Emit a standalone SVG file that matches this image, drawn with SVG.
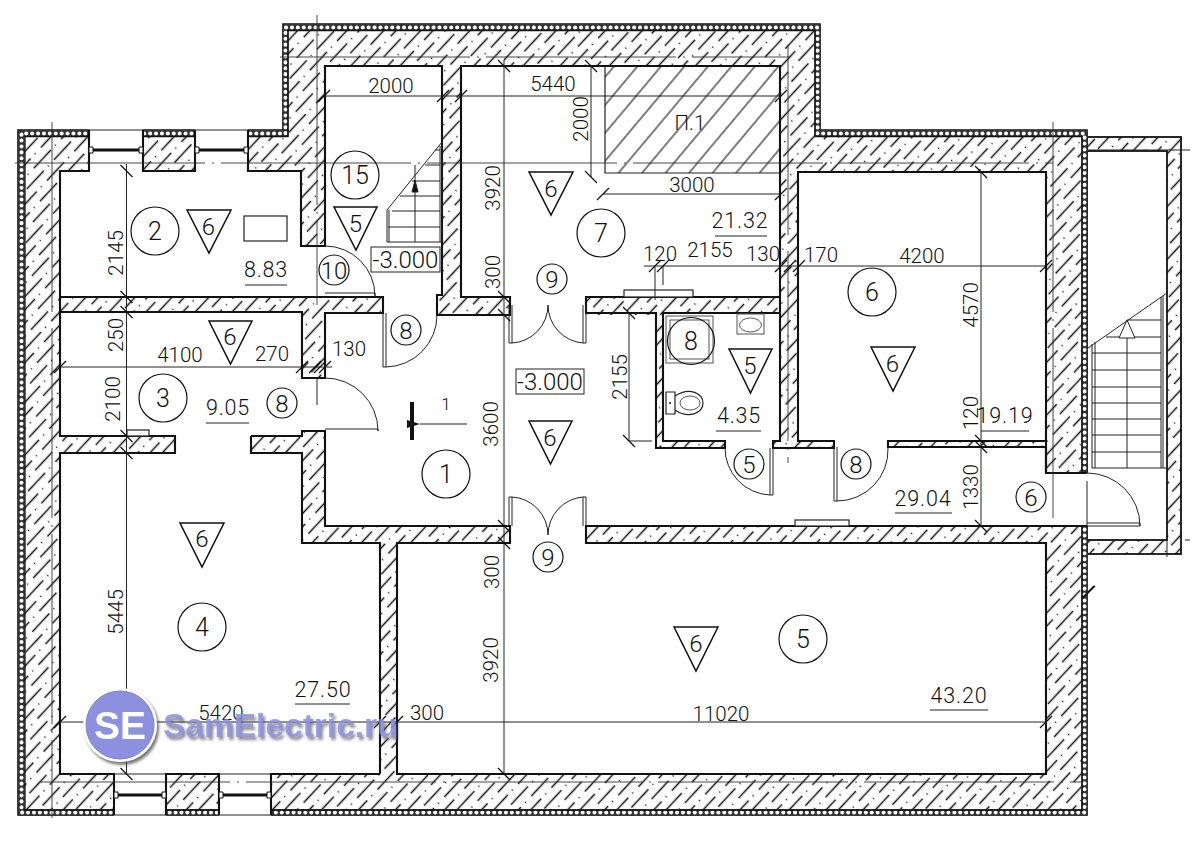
<svg xmlns="http://www.w3.org/2000/svg" width="1200" height="854" viewBox="0 0 1200 854">
<style>
text{font-family:"Roboto","Liberation Sans",Arial,sans-serif;font-weight:300;fill:#111}
.d{font-size:20.500px;text-anchor:middle}
.a{font-size:21.500px;text-anchor:middle;letter-spacing:.8px}
.c{font-size:25px;text-anchor:middle}
.s{font-size:24px;text-anchor:middle}
.t{font-size:24px;text-anchor:middle}
.e{font-size:24px;text-anchor:middle}
.wall{fill:none;stroke:#111;stroke-width:2.1;stroke-linejoin:miter}
.thin{fill:none;stroke:#222;stroke-width:1}
.dim{fill:none;stroke:#222;stroke-width:1;marker-start:url(#tick);marker-mid:url(#tick);marker-end:url(#tick)}
.axis{fill:none;stroke:#333;stroke-width:.9;stroke-dasharray:190 7 2 7}
.cir{fill:#fff;fill-opacity:0;stroke:#111;stroke-width:1.2}
.tri{fill:none;stroke:#111;stroke-width:1.5;stroke-linejoin:miter}
.fx{fill:none;stroke:#555;stroke-width:1}
.ul{stroke:#222;stroke-width:1.2}
.w{fill:#fff}
</style>
<defs>
<pattern id="hatch" width="40" height="18" patternUnits="userSpaceOnUse" patternTransform="rotate(-47)">
<path d="M0,4.5H25M31,4.5H32.2M20,13.5H40M0,13.5H5M11,13.5H12.2" stroke="#111" stroke-width="1.4" fill="none"/>
</pattern>
<pattern id="zone" width="30" height="18" patternUnits="userSpaceOnUse" patternTransform="rotate(-50)">
<path d="M0,9H30" stroke="#111" stroke-width="1.1"/>
</pattern>
<marker id="tick" markerUnits="userSpaceOnUse" markerWidth="20" markerHeight="20" refX="10" refY="10" orient="auto">
<path d="M4,16L16,4" stroke="#111" stroke-width="1.3"/>
</marker>
<marker id="head" markerUnits="userSpaceOnUse" markerWidth="14" markerHeight="10" refX="0" refY="5" orient="auto">
<path d="M0,5L13,1V9Z" fill="#111"/>
</marker>
<filter id="shadow" x="-10%" y="-20%" width="120%" height="150%">
<feDropShadow dx="2" dy="3" stdDeviation="1.6" flood-color="#555" flood-opacity=".8"/>
</filter>
</defs>
<rect width="1200" height="854" fill="#fff"/>

<g id="balcony">
<rect x="1087" y="137" width="94" height="417" fill="url(#hatch)" stroke="#111" stroke-width="1.8"/>
<rect x="1087" y="151" width="80" height="389" fill="#fff" stroke="#111" stroke-width="1.8"/>
</g>

<g id="walls">
<path id="mass" d="M18,130H283V24H820V130H1087V815H18Z" fill="#fff"/>
<path d="M18,130H283V24H820V130H1087V815H18Z" fill="url(#hatch)" stroke="#111" stroke-width="1.6"/>
<path d="M1084.500,474V133.500H817.500V27.500H285.500V133.500H21.500V812.500H1084.500V526" fill="none" stroke="#333" stroke-width="6.400"/>
<path d="M1084.500,474V133.500H817.500V27.500H285.500V133.500H21.500V812.500H1084.500V526" fill="none" stroke="#fff" stroke-width="4" stroke-linecap="round" stroke-dasharray="0.1 5.800"/>
<path d="M1082,473V136.500H815V30.500H288V136.500H25V810H1082V526" fill="none" stroke="#111" stroke-width="1.3"/>
</g>

<g id="interiors" class="w">
<rect x="60" y="171" width="241" height="126"/>
<rect x="301" y="246" width="24" height="51"/>
<rect x="325" y="66" width="117" height="231"/>
<rect x="383" y="295" width="54" height="20"/>
<rect x="60" y="312" width="242" height="124"/>
<rect x="300" y="378" width="27" height="53"/>
<rect x="175" y="434" width="76" height="21"/>
<path d="M60,453H302V543H380V774H60Z"/>
<path d="M325,313H383V315H656V448H725V441H773V448H834V441H888V447H1046V473H1089V526H325Z"/>
<rect x="663" y="313" width="117" height="128"/>
<rect x="461" y="66" width="319" height="231"/>
<rect x="510" y="295" width="76" height="22"/>
<rect x="798" y="172" width="248" height="269"/>
<rect x="834" y="439" width="54" height="10"/>
<rect x="397" y="543" width="649" height="231"/>
<rect x="510" y="524" width="76" height="21"/>
<rect x="89" y="128" width="54" height="43"/>
<rect x="195" y="128" width="53" height="43"/>
<rect x="114" y="774" width="52" height="43"/>
<rect x="219" y="774" width="52" height="43"/>
</g>

<g id="wall-lines">
<path class="wall" d="M89,130V171H60V436H175V453H60V774H114V815M143,130V171H195V130M248,130V171H301V246H325V66H442V295H437V315H510V297H461V66H780V297H586V313H656V448H725V441H663V313H780V441H773V448H834V441H798V172H1046V441H888V447H1046V473H1087M780,297V441M798,441V172M586,297V313M510,297V315M834,441V448M888,441V447"/>
<path class="wall" d="M60,297H383V313H325V378H302V312H60M251,436H302V431H325V526H510V543H397V774H1046V543H586V526H1087M251,436V453H302V543H380V774M166,815V774H219V815M271,815V774H380M510,526V543M586,526V543M1046,473V441"/>
<path class="thin" d="M89,130H143M195,130H248M114,815H166M219,815H271M114,774H166M219,774H271"/>
</g>

<g id="windows">
<path d="M93,150H140M199,150H245M118,795H162M223,795H268" stroke="#111" stroke-width="2.8" fill="none"/>
<path d="M89,147h4v6h-4zM139,147h4v6h-4zM195,147h4v6h-4zM244,147h4v6h-4zM114,792h4v6h-4zM162,792h4v6h-4zM219,792h4v6h-4zM267,792h4v6h-4z" fill="#fff" stroke="#111" stroke-width="1"/>
</g>

<g id="doors" class="thin">
<path d="M325,246A50,50 0 0 1 375,296M325,293H375V297"/>
<path d="M325,378A53,53 0 0 1 378,431M325,429H378V431"/>
<path d="M383,313V367H386V313M386,367A52,52 0 0 0 437,315"/>
<path d="M509,305V343H512V305M512,343A38,38 0 0 0 548,305M586,305V343H583V305M583,343A38,38 0 0 1 548,305"/>
<path d="M509,526V497H512V526M512,497A38,38 0 0 1 548,535M586,526V497H583V526M583,497A38,38 0 0 0 548,535"/>
<path d="M725,448A47,47 0 0 0 770,495H773V448M770,495V448"/>
<path d="M834,447V501H837V447M837,501A51,51 0 0 0 888,448"/>
<path d="M1087,473A53,53 0 0 1 1140,526M1087,523H1140V526H1087M1087,481V526"/>
</g>

<g id="fixtures">
<rect x="244" y="216" width="43" height="25" fill="#fff" stroke="#222" stroke-width="1.2"/>
<rect x="127" y="430" width="22" height="6" fill="#fff" stroke="#222" stroke-width="1.2"/>
<rect x="624" y="290" width="69" height="7" fill="#fff" stroke="#222" stroke-width="1.2"/>
<rect x="795" y="520" width="54" height="6" fill="#fff" stroke="#222" stroke-width="1.2"/>
<rect class="fx" x="666" y="316" width="47" height="47"/>
<rect class="fx" x="670" y="320" width="39" height="39"/>
<rect class="fx" x="737" y="314" width="27" height="20"/>
<ellipse class="fx" cx="750.500" cy="325" rx="11" ry="7"/>
<path d="M666,392h9v22h-9zM675,396C690,386 703,394 703,403C703,412 690,420 675,410" fill="none" stroke="#222" stroke-width="1.2"/>
<ellipse class="fx" cx="690" cy="403" rx="10" ry="7"/>
<circle cx="670" cy="403" r="1" fill="#111"/>
</g>

<g id="stairs" class="thin">
<path d="M387,210L442,142M387,210V242H442M389,210V242M440,146V242M442,142V242M388,227H440M392,211H440M400,196H440M412,181H440M425,165H440M435,150H440M415,242V165"/>
<path d="M415,180L412,192H418Z" fill="#111"/>
<path d="M1088,348L1167,293M1092,344V468H1167M1095,342V468M1161,297V468M1163,296V468M1092,353H1161M1092,370H1161M1092,387H1161M1092,403H1161M1092,419H1161M1092,435H1161M1092,452H1161M1106,337H1161M1127,320H1161M1127,468V320"/>
<path d="M1127,320L1135,338H1119Z" fill="#fff" stroke="#222"/>
</g>

<g id="zone-p1">
<rect x="605" y="66" width="175" height="107" fill="url(#zone)"/>
<path d="M605,66V173H780" class="thin" style="stroke-width:1.2"/>
</g>

<g id="axes">
<path class="axis" d="M15,163H1053M280,57H790M40,782H1082M52,122V818M317,15V305M788,45V463M1053,122V522"/>
<path class="thin" d="M317,378V405M1087,150H1190M1167,540V557M1185,540H1190"/>
</g>

<g id="dimensions">
<path class="dim" d="M126.500,171V297V312V436V453V774"/>
<path class="thin" d="M126.500,164V171"/>
<path class="dim" d="M504,66V297V315V526V543V774"/>
<path class="thin" d="M504,60V66"/>
<path class="dim" d="M591,66V177"/>
<path class="dim" d="M629,313V441"/>
<path class="thin" d="M629,441H652"/>
<path class="dim" d="M981,172V441V447V526"/>
<path class="dim" d="M324,96H443H461H781"/>
<path class="dim" d="M60,367H302H315H320H325"/>
<path class="thin" d="M325,367H332"/>
<path class="dim" d="M655,266H663H781H790H799H1046"/>
<path class="thin" d="M644,266H655M655,266V300M663,266V285"/>
<path class="dim" d="M60,722H380H397H1046"/>
<path class="dim" d="M603,194H781"/>
<path class="dim" d="M1088,592H1089"/>
</g>

<g id="dim-labels">
<text class="d" x="391" y="93">2000</text>
<text class="d" x="553" y="91">5440</text>
<text class="d" x="692" y="192">3000</text>
<text class="d" x="180" y="362">4100</text>
<text class="d" x="272" y="361">270</text>
<text class="d" x="349" y="356">130</text>
<text class="d" x="660" y="261">120</text>
<text class="d" x="710" y="257">2155</text>
<text class="d" x="763" y="261">130</text>
<text class="d" x="821" y="262">170</text>
<text class="d" x="922" y="263">4200</text>
<text class="d" x="221" y="720">5420</text>
<text class="d" x="427" y="720">300</text>
<text class="d" x="721" y="721">11020</text>
<text class="d" transform="translate(123,253) rotate(-90)">2145</text>
<text class="d" transform="translate(123,335) rotate(-90)">250</text>
<text class="d" transform="translate(120,399) rotate(-90)">2100</text>
<text class="d" transform="translate(123,612) rotate(-90)">5445</text>
<text class="d" transform="translate(500,188) rotate(-90)">3920</text>
<text class="d" transform="translate(500,272) rotate(-90)">300</text>
<text class="d" transform="translate(498,424) rotate(-90)">3600</text>
<text class="d" transform="translate(499,572) rotate(-90)">300</text>
<text class="d" transform="translate(498,660) rotate(-90)">3920</text>
<text class="d" transform="translate(588,119) rotate(-90)">2000</text>
<text class="d" transform="translate(627,377) rotate(-90)">2155</text>
<text class="d" transform="translate(978,305) rotate(-90)">4570</text>
<text class="d" transform="translate(978,413) rotate(-90)">120</text>
<text class="d" transform="translate(978,487) rotate(-90)">1330</text>
<text class="d" x="690" y="130">П.1</text>
</g>

<g id="areas">
<text class="a" x="266" y="277">8.83</text><line class="ul" x1="245" y1="285" x2="287" y2="285"/>
<text class="a" x="228" y="415">9.05</text><line class="ul" x1="206" y1="423" x2="249" y2="423"/>
<text class="a" x="740" y="228">21.32</text><line class="ul" x1="715" y1="236" x2="767" y2="236"/>
<text class="a" x="1005" y="423">19.19</text><line class="ul" x1="981" y1="431" x2="1029" y2="431"/>
<text class="a" x="923" y="506">29.04</text><line class="ul" x1="895" y1="513" x2="952" y2="513"/>
<text class="a" x="323" y="697">27.50</text><line class="ul" x1="295" y1="704" x2="350" y2="704"/>
<text class="a" x="959" y="703">43.20</text><line class="ul" x1="930" y1="710" x2="988" y2="710"/>
<text class="a" x="739" y="423">4.35</text><line class="ul" x1="716" y1="431" x2="761" y2="431"/>
</g>

<g id="levels">
<rect x="371" y="247" width="69" height="25" fill="#fff" stroke="#222" stroke-width="1"/>
<text class="e" x="405.500" y="268">-3.000</text>
<rect x="516" y="369" width="68" height="25" fill="#fff" stroke="#222" stroke-width="1"/>
<text class="e" x="550" y="390">-3.000</text>
</g>

<g id="room-marks">
<g id="r15"><circle class="cir" cx="355" cy="175" r="24"/><text class="c" x="355" y="184">15</text></g>
<g id="r2"><circle class="cir" cx="155" cy="231" r="24"/><text class="c" x="155" y="240">2</text></g>
<g id="r3"><circle class="cir" cx="163" cy="398" r="24"/><text class="c" x="163" y="407">3</text></g>
<g id="r4"><circle class="cir" cx="202" cy="627" r="24"/><text class="c" x="202" y="636">4</text></g>
<g id="r1"><circle class="cir" cx="446" cy="474" r="24"/><text class="c" x="446" y="483">1</text></g>
<g id="r5"><circle class="cir" cx="803" cy="639" r="24"/><text class="c" x="803" y="648">5</text></g>
<g id="r6"><circle class="cir" cx="872" cy="292" r="24"/><text class="c" x="872" y="301">6</text></g>
<g id="r7"><circle class="cir" cx="601" cy="233" r="24"/><text class="c" x="601" y="242">7</text></g>
<g id="r8"><circle class="cir" cx="691" cy="341" r="23.500"/><text class="c" x="691" y="350">8</text></g>
</g>

<g id="door-marks">
<circle class="cir" cx="334" cy="270" r="15"/><text class="s" x="334" y="278.500">10</text>
<circle class="cir" cx="282" cy="403" r="15"/><text class="s" x="282" y="411.500">8</text>
<circle class="cir" cx="406" cy="330" r="15"/><text class="s" x="406" y="338.500">8</text>
<circle class="cir" cx="552" cy="279" r="15"/><text class="s" x="552" y="287.500">9</text>
<circle class="cir" cx="548" cy="557" r="15"/><text class="s" x="548" y="565.500">9</text>
<circle class="cir" cx="749" cy="464" r="15"/><text class="s" x="749" y="472.500">5</text>
<circle class="cir" cx="856" cy="464" r="15"/><text class="s" x="856" y="472.500">8</text>
<circle class="cir" cx="1031" cy="497" r="15"/><text class="s" x="1031" y="505.500">6</text>
</g>

<g id="floor-marks">
<path class="tri" d="M187,210H231L209,253Z"/><text class="t" x="208.500" y="235">6</text>
<path class="tri" d="M334,207H377L356,250Z"/><text class="t" x="355.500" y="232">5</text>
<path class="tri" d="M209,321H252L230.500,364Z"/><text class="t" x="230" y="345">6</text>
<path class="tri" d="M529,172H573L551,215Z"/><text class="t" x="551" y="197">6</text>
<path class="tri" d="M180,523H224L202,567Z"/><text class="t" x="202" y="547">6</text>
<path class="tri" d="M529,421H572L550.500,464Z"/><text class="t" x="550" y="446">6</text>
<path class="tri" d="M729,349H772L750.500,393Z"/><text class="t" x="750" y="374">5</text>
<path class="tri" d="M871,347H915L893,391Z"/><text class="t" x="892.500" y="372">6</text>
<path class="tri" d="M674,627H718L696,671Z"/><text class="t" x="696" y="652">6</text>
</g>

<g id="section">
<rect x="410" y="402" width="4" height="38" fill="#111"/>
<path d="M467,424H420" stroke="#222" stroke-width="1" marker-end="url(#head)"/>
<text x="446" y="410" style="font-size:17px;text-anchor:middle">1</text>
</g>

<g id="watermark" filter="url(#shadow)">
<circle cx="120" cy="725" r="37" fill="#fff"/>
<circle cx="120" cy="725" r="34" fill="#8c90de" stroke="#7d81d2" stroke-width="1"/>
<text x="120" y="739" style="font-family:'Liberation Sans',sans-serif;font-size:39px;font-weight:700;text-anchor:middle;fill:#fff">SE</text>
<text x="163" y="737" style="font-family:'Liberation Sans',sans-serif;font-size:33.500px;font-weight:700;fill:#8c90de" fill-opacity=".85">SamElectric.ru</text>
</g>
</svg>
